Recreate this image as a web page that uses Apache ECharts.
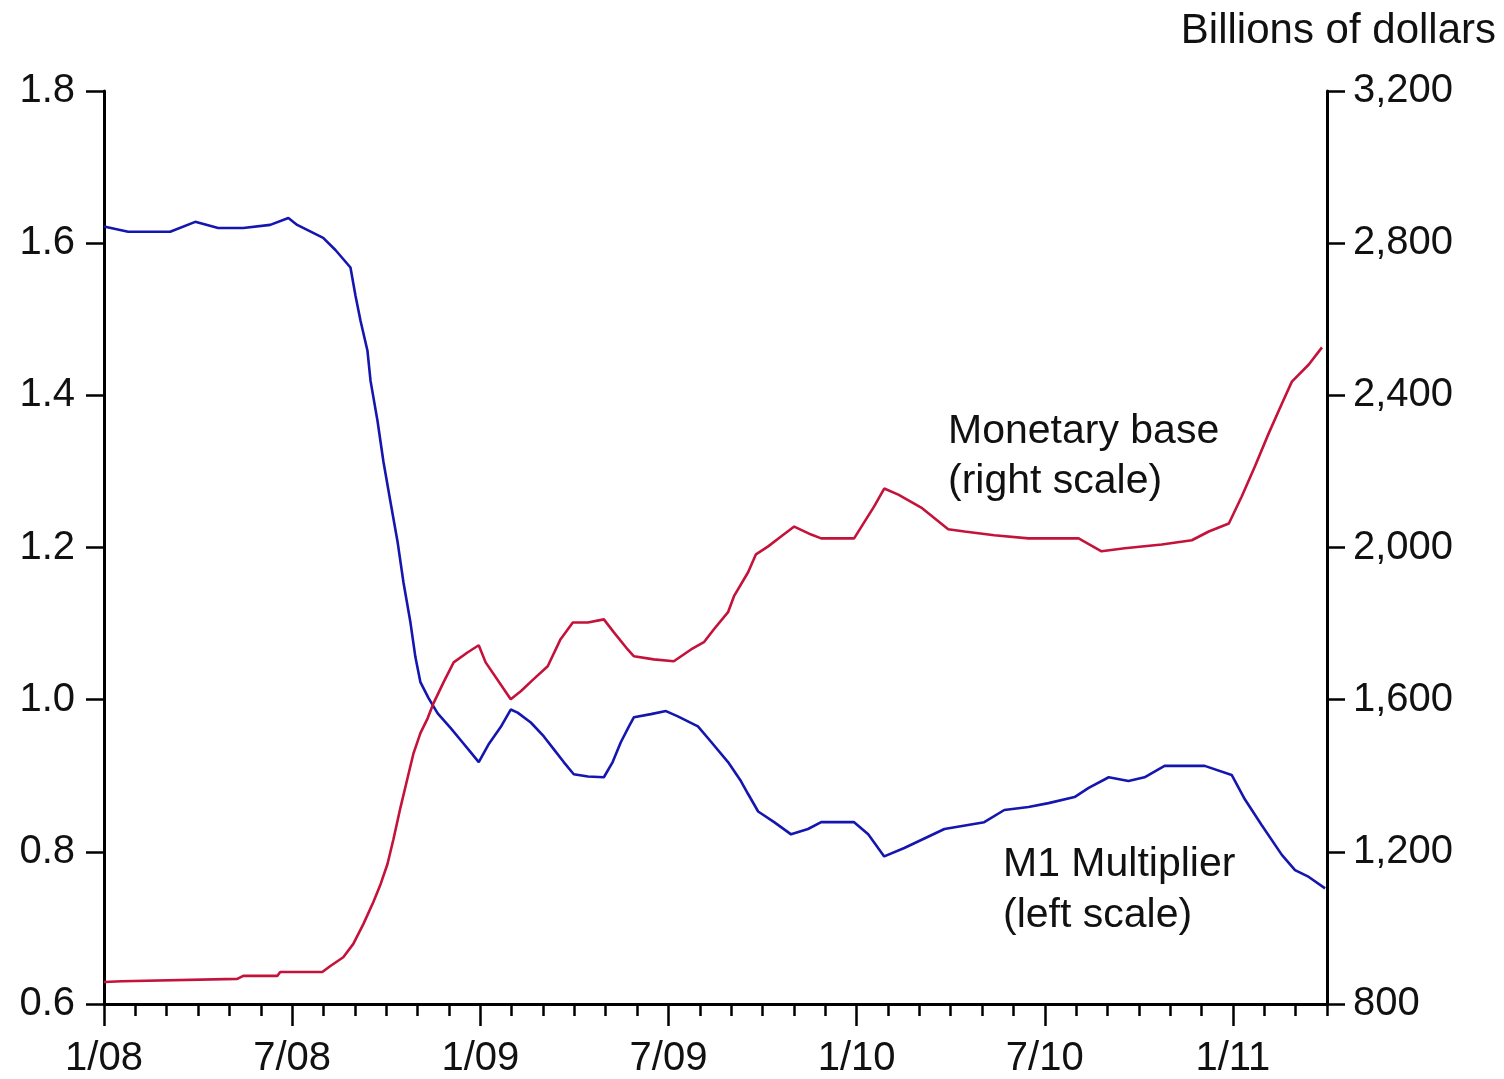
<!DOCTYPE html>
<html>
<head>
<meta charset="utf-8">
<script src="https://cdn.jsdelivr.net/npm/echarts@6/dist/echarts.min.js"></script>
<style>
html,body{margin:0;padding:0;background:#fff;}
#chart{width:1504px;height:1079px;}
</style>
</head>
<body>
<div id="chart"></div>
<script>
// x values are months since Jan 2008 (0 = 1/08)
const m1Months = [0,0.77,2.11,2.91,3.64,4.44,5.30,5.88,6.16,6.99,7.38,7.86,8.02,8.18,8.40,8.50,8.72,8.91,9.13,9.36,9.55,9.77,9.93,10.09,10.35,10.64,11.05,11.43,11.69,11.95,12.26,12.65,12.97,13.19,13.61,14.02,14.34,14.66,14.98,15.43,15.94,16.22,16.48,16.74,16.90,17.44,17.92,18.30,18.94,19.35,19.90,20.31,20.54,20.86,21.37,21.91,22.45,22.87,23.92,24.37,24.88,25.52,26.80,28.07,28.71,29.48,30.12,30.95,31.40,32.04,32.67,33.18,33.82,35.10,35.96,36.38,36.92,37.56,37.98,38.42,38.94];
const m1Values = [1.622,1.615,1.615,1.628,1.620,1.620,1.624,1.633,1.624,1.607,1.591,1.568,1.531,1.498,1.459,1.419,1.367,1.313,1.261,1.208,1.154,1.102,1.056,1.023,1.002,0.982,0.963,0.944,0.931,0.918,0.941,0.964,0.987,0.983,0.970,0.952,0.935,0.918,0.902,0.899,0.898,0.918,0.944,0.965,0.977,0.981,0.985,0.978,0.965,0.945,0.918,0.893,0.876,0.853,0.839,0.823,0.830,0.839,0.839,0.823,0.794,0.805,0.830,0.839,0.855,0.859,0.864,0.872,0.884,0.898,0.893,0.898,0.913,0.913,0.901,0.869,0.835,0.796,0.776,0.767,0.752];

const baseMonths = [0,0.57,4.25,4.44,5.53,5.62,6.96,7.22,7.63,7.95,8.27,8.59,8.82,9.04,9.23,9.45,9.68,9.87,10.09,10.32,10.51,10.83,11.15,11.59,11.95,12.17,12.65,12.97,13.29,13.70,14.15,14.56,14.95,15.43,15.94,16.26,16.70,16.90,17.53,18.17,18.72,19.13,19.45,19.90,20.09,20.54,20.79,21.18,21.59,22.01,22.55,22.87,23.92,24.24,24.56,24.88,25.33,26.06,26.92,27.44,28.39,29.48,31.08,31.81,32.55,33.73,34.69,35.23,35.87,36.28,36.70,37.14,37.56,37.88,38.42,38.84];
const baseValues = [858,860,866,874,874,884,884,900,923,958,1010,1068,1115,1168,1233,1315,1394,1459,1512,1551,1591,1646,1698,1724,1743,1698,1640,1601,1622,1654,1688,1759,1803,1803,1811,1777,1732,1714,1706,1701,1732,1751,1785,1830,1872,1935,1982,2003,2029,2055,2034,2024,2024,2066,2108,2155,2139,2105,2048,2042,2032,2024,2024,1990,1998,2008,2019,2042,2063,2134,2213,2300,2378,2436,2481,2526];

const xTickMonths = [0,6,12,18,24,30,36];
const xTickLabels = ['1/08','7/08','1/09','7/09','1/10','7/10','1/11'];
const xMax = 39;

const leftMin = 0.6, leftMax = 1.8, leftStep = 0.2;
const rightMin = 800, rightMax = 3200, rightStep = 400;

const FONT = "'Liberation Sans', Arial, sans-serif";
const BLUE = '#1515b0';
const RED = '#c4123a';

const m1Data = m1Months.map((m, i) => [m, m1Values[i]]);
const baseData = baseMonths.map((m, i) => [m, baseValues[i]]);

const chart = echarts.init(document.getElementById('chart'), null, {renderer: 'canvas'});
const axisLineStyle = {color: '#000', width: 3};

chart.setOption({
  animation: false,
  backgroundColor: '#fff',
  grid: {left: 104, right: 177, top: 91, bottom: 73, containLabel: false},
  xAxis: [
    {
      type: 'value', min: 0, max: xMax, position: 'bottom',
      axisLine: {show: true, onZero: false, lineStyle: axisLineStyle},
      axisTick: {show: true, length: 22, lineStyle: {color: '#000', width: 2.5}, customValues: xTickMonths},
      axisLabel: {
        show: true, margin: 35, fontSize: 40, color: '#111', fontFamily: FONT,
        customValues: xTickMonths,
        formatter: v => { const i = xTickMonths.indexOf(Math.round(v)); return i >= 0 ? xTickLabels[i] : ''; }
      },
      splitLine: {show: false}
    },
    {
      type: 'value', min: 0, max: xMax, interval: 1, position: 'bottom',
      axisLine: {show: false},
      axisTick: {show: true, length: 12, lineStyle: {color: '#000', width: 2.5}},
      axisLabel: {show: false},
      splitLine: {show: false}
    }
  ],
  yAxis: [
    {
      type: 'value', min: leftMin, max: leftMax, interval: leftStep, position: 'left',
      axisLine: {show: true, onZero: false, lineStyle: axisLineStyle},
      axisTick: {show: true, length: 18, lineStyle: {color: '#000', width: 2.5}},
      axisLabel: {margin: 29, fontSize: 40, color: '#111', fontFamily: FONT, formatter: v => v.toFixed(1)},
      splitLine: {show: false}
    },
    {
      type: 'value', min: rightMin, max: rightMax, interval: rightStep, position: 'right',
      axisLine: {show: true, onZero: false, lineStyle: axisLineStyle},
      axisTick: {show: true, length: 18, lineStyle: {color: '#000', width: 2.5}},
      axisLabel: {margin: 26, fontSize: 40, color: '#111', fontFamily: FONT, formatter: v => v.toLocaleString('en-US')},
      splitLine: {show: false}
    }
  ],
  series: [
    {
      name: 'M1 Multiplier', type: 'line', xAxisIndex: 0, yAxisIndex: 0,
      data: m1Data, showSymbol: false, symbol: 'none',
      lineStyle: {color: BLUE, width: 2.6}
    },
    {
      name: 'Monetary base', type: 'line', xAxisIndex: 0, yAxisIndex: 1,
      data: baseData, showSymbol: false, symbol: 'none',
      lineStyle: {color: RED, width: 2.6}
    }
  ],
  graphic: [
    {type: 'text', right: 8, top: 10, style: {text: 'Billions of dollars', fontSize: 42, fontFamily: FONT, fill: '#111'}},
    {type: 'text', left: 948, top: 407, style: {text: 'Monetary base\n(right scale)', fontSize: 41, lineHeight: 50, fontFamily: FONT, fill: '#111'}},
    {type: 'text', left: 1003, top: 839, style: {text: 'M1 Multiplier\n(left scale)', fontSize: 41, lineHeight: 51, fontFamily: FONT, fill: '#111'}}
  ]
});
</script>
</body>
</html>
